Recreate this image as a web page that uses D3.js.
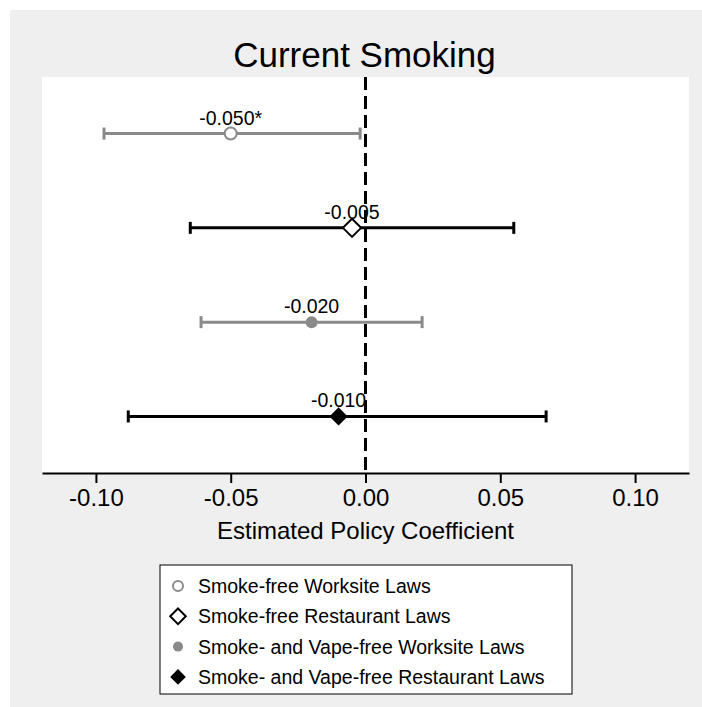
<!DOCTYPE html>
<html>
<head>
<meta charset="utf-8">
<script src="https://cdn.jsdelivr.net/npm/d3@7"></script>
<style>
  body { margin: 0; background: #fff; }
  svg { display: block; font-family: "Liberation Sans", Arial, Helvetica, sans-serif; }
</style>
</head>
<body>
<div id="chart"></div>
<script>
// data
var series = ["Smoke-free Worksite Laws", "Smoke-free Restaurant Laws",
              "Smoke- and Vape-free Worksite Laws", "Smoke- and Vape-free Restaurant Laws"];
var estimates = [-0.050, -0.005, -0.020, -0.010];
var lower = [-0.097, -0.065, -0.061, -0.088];
var upper = [-0.002, 0.055, 0.021, 0.067];
var pointLabels = ["-0.050*", "-0.005", "-0.020", "-0.010"];
var xTicks = [-0.10, -0.05, 0.00, 0.05, 0.10];

var colors = ["#8a8a8a", "#000", "#8a8a8a", "#000"];
var shapes = ["circleOpen", "diamondOpen", "circle", "diamond"];

var width = 702, height = 707,
    plotLeft = 42, plotRight = 689, plotTop = 77, plotBottom = 473;

var svg = d3.select("#chart")
            .append("svg")
              .attr("width", width)
              .attr("height", height);

// grey graph region
svg.append("rect")
    .attr("x", 10).attr("y", 10)
    .attr("width", width - 10).attr("height", height - 10)
    .style("fill", "#efefef");

// white plot region
svg.append("rect")
    .attr("x", plotLeft).attr("y", plotTop)
    .attr("width", plotRight - plotLeft).attr("height", plotBottom - plotTop)
    .style("fill", "#fff");

var x = d3.scaleLinear()
          .domain([-0.12, 0.12])
          .range([plotLeft, plotRight]);

var y = d3.scaleLinear()
          .domain([0.4, 4.6])
          .range([plotTop, plotBottom]);

svg.append("text")
    .attr("x", x(0) - 1)
    .attr("y", 67)
    .attr("text-anchor", "middle")
    .style("font-size", "35px")
    .text("Current Smoking");

var xAxis = d3.axisBottom(x)
    .tickValues(xTicks)
    .tickSize(10)
    .tickSizeOuter(0)
    .tickPadding(6)
    .tickFormat(function(d){ return d.toFixed(2); });

var gx = svg.append("g")
    .attr("transform", "translate(0," + plotBottom + ")")
    .call(xAxis);
gx.select(".domain").attr("stroke-width", 2);
gx.selectAll(".tick line").attr("stroke-width", 2);
gx.selectAll(".tick text")
    .style("font-size", "24px")
    .style("font-family", "Liberation Sans, Arial, sans-serif")
    .attr("fill", "#000");

svg.append("text")
    .attr("x", x(0))
    .attr("y", 539)
    .attr("text-anchor", "middle")
    .style("font-size", "24px")
    .text("Estimated Policy Coefficient");

var rows = d3.range(series.length);

// confidence intervals
var ci = svg.selectAll("g.ci")
    .data(rows)
    .enter()
    .append("g")
      .attr("class", "ci")
      .style("stroke", function(i){ return colors[i]; })
      .style("stroke-width", 3);

ci.append("line")
    .attr("x1", function(i){ return x(lower[i]); })
    .attr("x2", function(i){ return x(upper[i]); })
    .attr("y1", function(i){ return y(i + 1); })
    .attr("y2", function(i){ return y(i + 1); });

ci.append("line")
    .attr("x1", function(i){ return x(lower[i]); })
    .attr("x2", function(i){ return x(lower[i]); })
    .attr("y1", function(i){ return y(i + 1) - 6; })
    .attr("y2", function(i){ return y(i + 1) + 6; });

ci.append("line")
    .attr("x1", function(i){ return x(upper[i]); })
    .attr("x2", function(i){ return x(upper[i]); })
    .attr("y1", function(i){ return y(i + 1) - 6; })
    .attr("y2", function(i){ return y(i + 1) + 6; });

function drawMarker(sel, shape, color, size) {
    if (shape === "circleOpen" || shape === "circle") {
        sel.append("circle")
            .attr("r", size)
            .style("fill", shape === "circle" ? color : "#fff")
            .style("stroke", color)
            .style("stroke-width", shape === "circle" ? 0 : 2);
    } else {
        var s = size * 1.3;
        sel.append("path")
            .attr("d", "M0," + (-s) + "L" + s + ",0L0," + s + "L" + (-s) + ",0Z")
            .style("fill", shape === "diamond" ? color : "#fff")
            .style("stroke", color)
            .style("stroke-width", shape === "diamond" ? 0 : 2);
    }
}

rows.forEach(function(i) {
    var g = svg.append("g")
        .attr("transform", "translate(" + x(estimates[i]) + "," + y(i + 1) + ")");
    drawMarker(g, shapes[i], colors[i], i % 2 === 0 ? 6 : 7);
});

svg.selectAll("text.plabel")
    .data(rows)
    .enter()
    .append("text")
      .attr("class", "plabel")
      .attr("x", function(i){ return x(estimates[i]); })
      .attr("y", function(i){ return y(i + 1) - 9; })
      .attr("text-anchor", "middle")
      .style("font-size", "19.5px")
      .text(function(i){ return pointLabels[i]; });

// reference line at zero
svg.append("line")
    .attr("x1", x(0)).attr("x2", x(0))
    .attr("y1", plotTop).attr("y2", plotBottom)
    .style("stroke", "#000")
    .style("stroke-width", 3)
    .style("stroke-dasharray", "13,6");

// legend
var legX = 160, legY = 565, legW = 412, legH = 129;
svg.append("rect")
    .attr("x", legX).attr("y", legY)
    .attr("width", legW).attr("height", legH)
    .style("fill", "#fff")
    .style("stroke", "#000")
    .style("stroke-width", 1);

var leg = svg.selectAll("g.leg")
    .data(rows)
    .enter()
    .append("g")
      .attr("class", "leg")
      .attr("transform", function(i){ return "translate(" + (legX + 18) + "," + (legY + 21 + i * 30.3) + ")"; });

leg.each(function(i){
    drawMarker(d3.select(this), shapes[i], colors[i], i % 2 === 0 ? 5 : 6);
});

leg.append("text")
    .attr("x", 20)
    .attr("y", 7)
    .style("font-size", "19.5px")
    .text(function(i){ return series[i]; });
</script>
</body>
</html>
